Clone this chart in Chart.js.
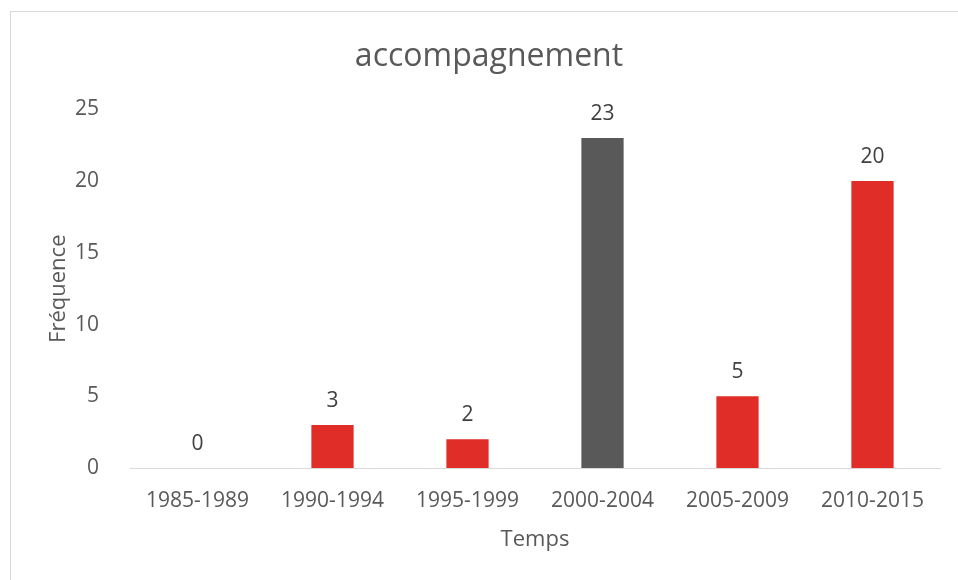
<!DOCTYPE html>
<html>
<head>
<meta charset="utf-8">
<script src="https://cdn.jsdelivr.net/npm/chart.js@4.4.0/dist/chart.umd.min.js"></script>
<style>
    html, body { margin: 0; padding: 0; background: #fff; }
    #wrap { position: relative; width: 958px; height: 580px; overflow: hidden; }
    #frame {
        position: absolute; left: 10px; top: 11px; width: 1000px; height: 600px;
        border-left: 1px solid #d9d9d9; border-top: 1px solid #d9d9d9;
    }
    canvas { position: absolute; left: 0; top: 0; }
</style>
</head>
<body>
<div id="wrap">
    <div id="frame"></div>
    <canvas id="chart" width="958" height="580"></canvas>
</div>
<script>
const periods = ['1985-1989', '1990-1994', '1995-1999', '2000-2004', '2005-2009', '2010-2015'];
const frequencies = [0, 3, 2, 23, 5, 20];
const highlightIndex = 3;
const yTicks = [0, 5, 10, 15, 20, 25];

const textGrey = '#595959';
const fontFamily = '"Open Sans", sans-serif';

// value labels above each bar
const barLabels = {
    id: 'barLabels',
    afterDatasetsDraw(chart) {
        const ctx = chart.ctx;
        const meta = chart.getDatasetMeta(0);
        ctx.save();
        ctx.font = '21px ' + fontFamily;
        ctx.fillStyle = '#404040';
        ctx.textAlign = 'center';
        ctx.textBaseline = 'middle';
        meta.data.forEach((bar, i) => {
            ctx.fillText(String(frequencies[i]), bar.x, bar.y - 24);
        });
        ctx.restore();
    }
};

new Chart(document.getElementById('chart').getContext('2d'), {
    type: 'bar',
    data: {
        labels: periods,
        datasets: [{
            label: 'accompagnement',
            data: frequencies,
            backgroundColor: frequencies.map((v, i) => i === highlightIndex ? '#595959' : '#E02D27'),
            borderWidth: 0,
            categoryPercentage: 1,
            barPercentage: 0.313
        }]
    },
    options: {
        responsive: false,
        animation: false,
        layout: { padding: { left: 38, right: 18, top: 0, bottom: 0 } },
        plugins: {
            legend: { display: false },
            tooltip: { enabled: false },
            title: {
                display: true,
                text: 'accompagnement',
                color: textGrey,
                font: { family: fontFamily, size: 32, weight: 'normal' },
                padding: { top: 38, bottom: 33 }
            }
        },
        scales: {
            x: {
                grid: { display: false },
                border: { display: true, color: '#d9d9d9', width: 1 },
                ticks: {
                    color: textGrey,
                    font: { family: fontFamily, size: 21 },
                    padding: 12,
                    maxRotation: 0
                },
                title: {
                    display: true,
                    text: 'Temps',
                    color: textGrey,
                    font: { family: fontFamily, size: 22 },
                    padding: { top: 0, bottom: 27 }
                },
                afterFit(scale) { scale.height = 112; }
            },
            y: {
                min: 0,
                max: 25,
                grid: { display: false },
                border: { display: false },
                afterBuildTicks(scale) { scale.ticks = yTicks.map(v => ({ value: v })); },
                ticks: {
                    color: textGrey,
                    font: { family: fontFamily, size: 21 },
                    padding: 23
                },
                title: {
                    display: true,
                    text: 'Fréquence',
                    color: textGrey,
                    font: { family: fontFamily, size: 22 },
                    padding: { top: 8, bottom: 0 }
                },
                afterFit(scale) { scale.width = 92; }
            }
        }
    },
    plugins: [barLabels]
});
</script>
</body>
</html>
